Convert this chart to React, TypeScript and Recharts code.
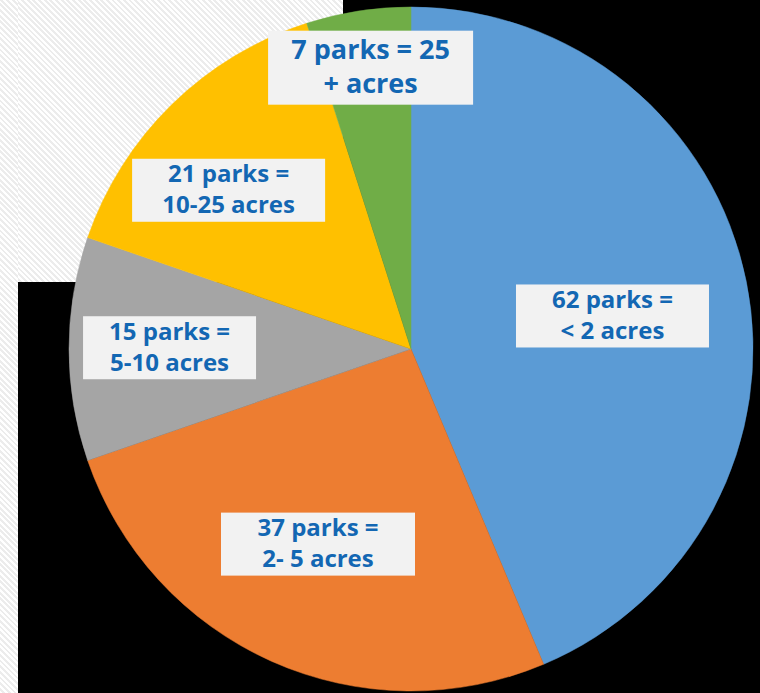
import React from 'react';
import { PieChart, Pie, Cell } from 'recharts';

const categories = ['< 2 acres', '2- 5 acres', '5-10 acres', '10-25 acres', '25 + acres'];
const parkCounts = [62, 37, 15, 21, 7];
const labelLines = [
  ['62 parks =', '< 2 acres'],
  ['37 parks =', '2- 5 acres'],
  ['15 parks =', '5-10 acres'],
  ['21 parks =', '10-25 acres'],
  ['7 parks = 25', '+ acres'],
];

const COLORS = ['#5B9BD5', '#ED7D31', '#A5A5A5', '#FFC000', '#70AD47'];
const TEXT_COLOR = '#1367B3';
const RAD = Math.PI / 180;

// label box layout: radius fraction, angle nudge (deg), box size, font size
const labelLayout = [
  { r: 0.597, da: -2.1, w: 193, h: 63, fs: 24 },
  { r: 0.632, da: -1.4, w: 194, h: 63, fs: 24 },
  { r: 0.706, da: -0.3, w: 173, h: 63, fs: 24 },
  { r: 0.707, da: 4.6, w: 193, h: 63, fs: 24 },
  { r: 0.831, da: -0.7, w: 205, h: 74, fs: 27 },
];

const data = categories.map((name, i) => ({ name, value: parkCounts[i] }));

function renderLabel(props: any) {
  const { cx, cy, midAngle, outerRadius, index } = props;
  const lay = labelLayout[index];
  const a = (midAngle + lay.da) * RAD;
  const x = cx + outerRadius * lay.r * Math.cos(a);
  const y = cy - outerRadius * lay.r * Math.sin(a);
  const lines = labelLines[index];
  const gap = lay.fs * 1.28;
  return (
    <g key={`lbl-${index}`}>
      <rect x={x - lay.w / 2} y={y - lay.h / 2} width={lay.w} height={lay.h} fill="#F2F2F2" />
      {lines.map((t, k) => (
        <text
          key={k}
          x={x}
          y={y + (k - 0.5) * gap - 2}
          textAnchor="middle"
          dominantBaseline="central"
          fill={TEXT_COLOR}
          fontFamily="'Open Sans', sans-serif"
          fontWeight={700}
          fontSize={lay.fs}
        >
          {t}
        </text>
      ))}
    </g>
  );
}

export default function App() {
  const hatch = 'repeating-linear-gradient(45deg, #ffffff 0px, #ffffff 2px, #ececec 2px, #ececec 4px)';
  return (
    <div style={{ position: 'absolute', left: 0, top: 0, width: 760, height: 693, background: '#000', overflow: 'hidden' }}>
      <style>{`.recharts-pie-sectors { filter: drop-shadow(0 0 5px rgba(0,0,0,0.35)); }`}</style>
      <div style={{ position: 'absolute', left: 0, top: 0, width: 343, height: 282, background: hatch }} />
      <div style={{ position: 'absolute', left: 0, top: 0, width: 18, height: 693, background: hatch }} />
      <div style={{ position: 'absolute', left: 0, top: 0 }}>
        <PieChart width={760} height={693} margin={{ top: 0, right: 0, bottom: 0, left: 0 }}>
          <Pie
            data={data}
            dataKey="value"
            nameKey="name"
            cx={411}
            cy={349}
            outerRadius={342}
            startAngle={90}
            endAngle={-270}
            stroke="none"
            labelLine={false}
            label={renderLabel}
            isAnimationActive={false}
          >
            {data.map((d, i) => (
              <Cell key={d.name} fill={COLORS[i]} stroke={COLORS[i]} strokeWidth={0.5} />
            ))}
          </Pie>
        </PieChart>
      </div>
    </div>
  );
}
